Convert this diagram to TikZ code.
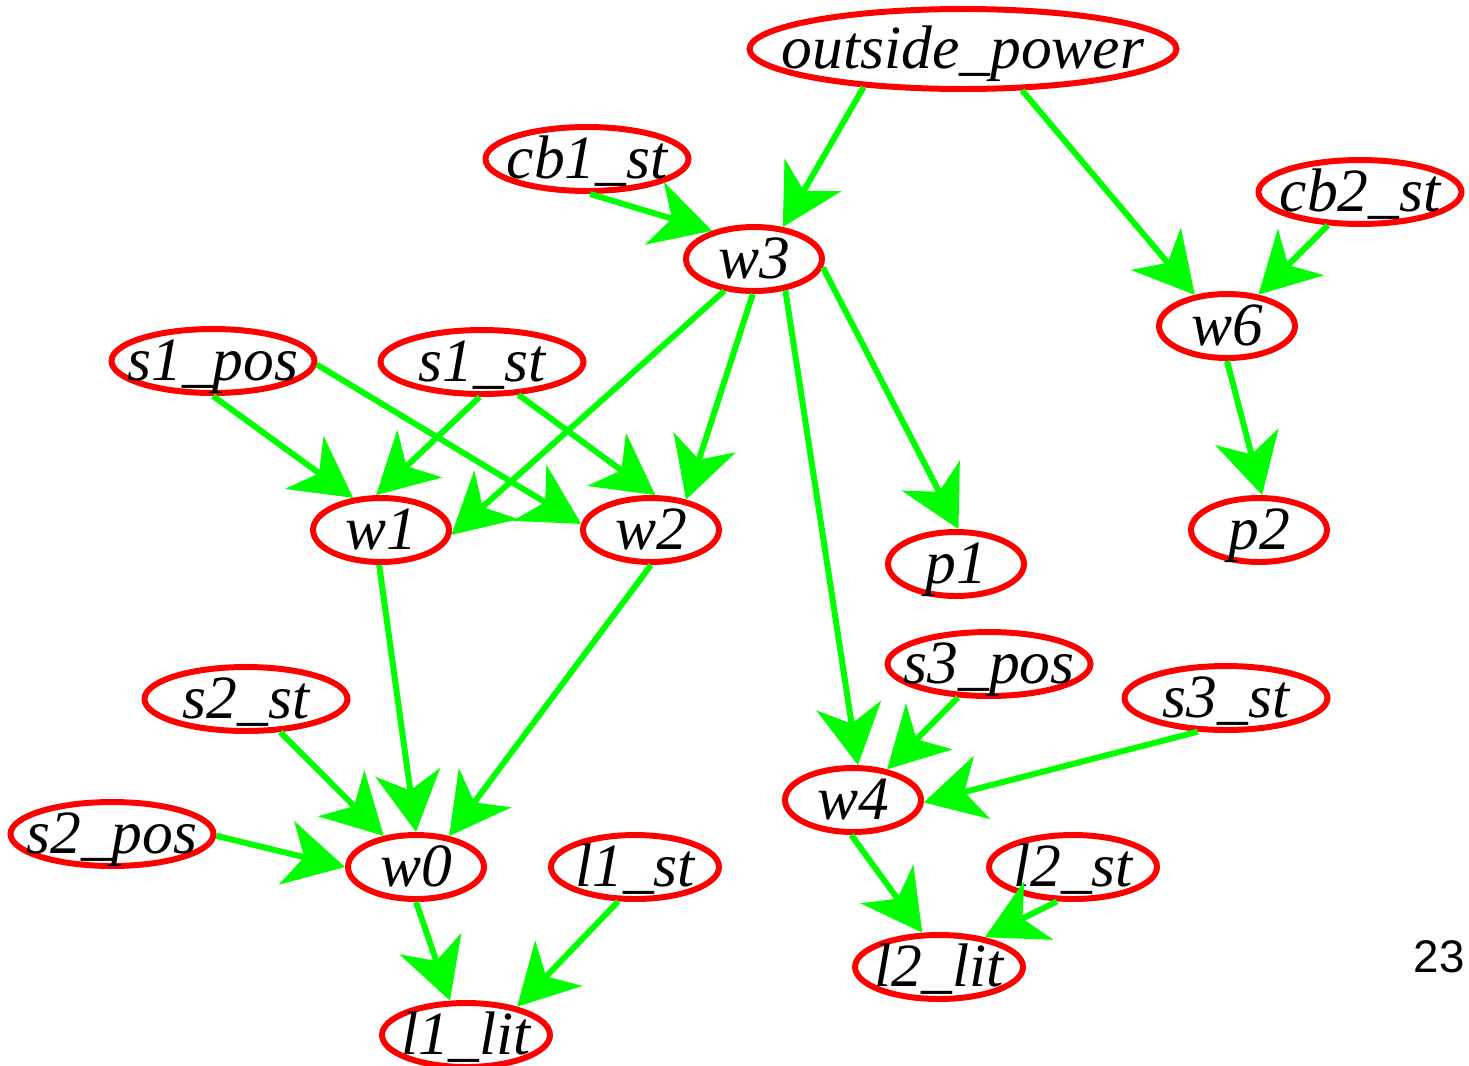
\documentclass[tikz,border=0pt]{standalone}
\usepackage{fontspec}
\setmainfont{Liberation Serif}
\newfontfamily\pagefont{Liberation Sans}
\usepackage{xcolor}
\usepackage{tikz}
\usetikzlibrary{shapes.geometric, arrows.meta}
\definecolor{nodered}{RGB}{255,0,0}
\definecolor{edgegreen}{RGB}{0,255,0}
\newcommand{\vname}[1]{\makebox[0pt]{#1}}

\begin{document}
\begin{tikzpicture}[x=0.02cm, y=-0.02cm]
\tikzstyle{var} = [ellipse, draw=nodered, line width=3.4pt, inner sep=0pt, minimum height=1.28cm, text height=22pt, text depth=0pt, font=\fontsize{35}{40}\selectfont\itshape]
\tikzstyle{wvar} = [var, minimum width=2.72cm]
\tikzstyle{svar} = [var, minimum width=4.06cm]
\tikzstyle{lvar} = [var, minimum width=3.36cm]
\tikzstyle{arrow} = [draw=edgegreen, line width=3.4pt, -{Stealth[length=1.2cm, width=1.3cm, inset=0.36cm]}]

\useasboundingbox (0,0) rectangle (1469,1065);

\node[var, minimum width=8.54cm, minimum height=1.6cm] (outside) at (963,49) {\vname{outside\_power}};
\node[svar] (cb1) at (587,159) {\vname{cb1\_st}};
\node[wvar] (w3) at (754,259) {\vname{w3}};
\node[svar] (cb2) at (1360,192) {\vname{cb2\_st}};
\node[wvar] (w6) at (1227,326) {\vname{w6}};
\node[svar] (s1pos) at (213,361) {\vname{s1\_pos}};
\node[svar] (s1st) at (482,362) {\vname{s1\_st}};
\node[wvar] (w1) at (381,530) {\vname{w1}};
\node[wvar] (w2) at (651,530) {\vname{w2}};
\node[wvar] (p1) at (956,564) {\vname{p1}};
\node[wvar] (p2) at (1259,530) {\vname{p2}};
\node[svar] (s3pos) at (989,664) {\vname{s3\_pos}};
\node[svar] (s3st) at (1226,698) {\vname{s3\_st}};
\node[svar] (s2st) at (246,699) {\vname{s2\_st}};
\node[wvar] (w4) at (853,800) {\vname{w4}};
\node[svar] (s2pos) at (112,834) {\vname{s2\_pos}};
\node[wvar] (w0) at (416,867) {\vname{w0}};
\node[lvar] (l1st) at (635,867) {\vname{l1\_st}};
\node[lvar] (l2st) at (1073,867) {\vname{l2\_st}};
\node[lvar] (l2lit) at (939,967) {\vname{l2\_lit}};
\node[lvar] (l1lit) at (466,1035) {\vname{l1\_lit}};
\node[font=\pagefont\fontsize{26}{30}\selectfont] (page) at (1439,957) {23};

\draw[arrow] (outside.201) -- (w3.48);
\draw[arrow] (outside.325) -- (w6.136);
\draw[arrow] (cb1.275) -- (w3.146);
\draw[arrow] (cb2.226) -- (w6.45);
\draw[arrow] (w3.227) -- (w1.356);
\draw[arrow] (w3.268) -- (w2.41);
\draw[arrow] (w3.353) -- (p1.86);
\draw[arrow] (w3.315) -- (w4.82);
\draw[arrow] (s1pos.270) -- (w1.131);
\draw[arrow] (s1pos.358) -- (w2.175);
\draw[arrow] (s1st.266) -- (w1.98);
\draw[arrow] (s1st.318) -- (w2.83);
\draw[arrow] (w6.270) -- (p2.85);
\draw[arrow] (w1.267) -- (w0.90);
\draw[arrow] (w2.270) -- (w0.43);
\draw[arrow] (s2st.316) -- (w0.136);
\draw[arrow] (s2pos.359) -- (w0.180);
\draw[arrow] (w0.270) -- (l1lit.115);
\draw[arrow] (l1st.244) -- (l1lit.29);
\draw[arrow] (s3pos.227) -- (w4.42);
\draw[arrow] (s3st.230) -- (w4.358);
\draw[arrow] (w4.267) -- (l2lit.116);
\draw[arrow] (l2st.245) -- (l2lit.33);
\end{tikzpicture}
\end{document}
